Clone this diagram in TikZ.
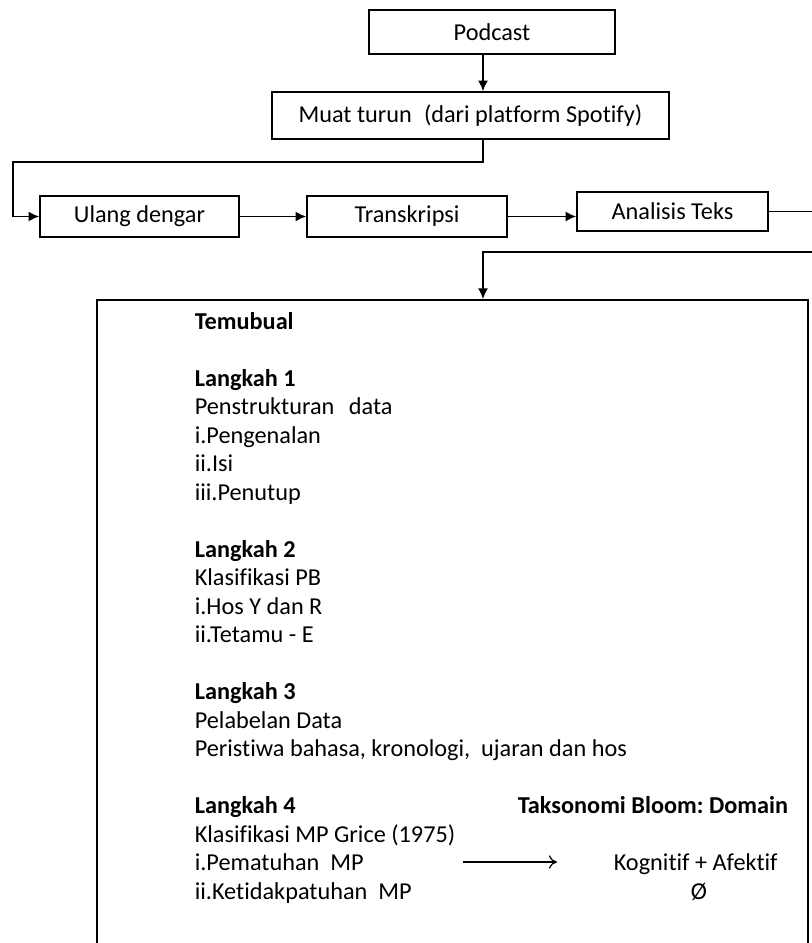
\documentclass[tikz,border=0pt]{standalone}
\usepackage{fontspec}
\setmainfont{Carlito}[Ligatures=NoCommon]
\usepackage{tikz}
\usetikzlibrary{arrows.meta}
\usetikzlibrary{calc}
\usetikzlibrary{positioning}

\newcommand{\ukuran}{\fontsize{18.2pt}{21pt}\selectfont}
\frenchspacing

\begin{document}
\begin{tikzpicture}[x=0.75pt, y=-0.75pt, font=\ukuran, -, >={Latex[length=8pt,width=7.5pt]}, line width=1.2pt]
	\tikzstyle{proses}=[draw, rectangle, inner sep=0pt]
	\tikzstyle{baris}=[anchor=base west, inner sep=0pt]
	\tikzstyle{tajuk}=[baris, font=\ukuran\bfseries]
	\useasboundingbox (0,0) rectangle (812,943);
	\clip (0,0) rectangle (812,943);

	% aliran atas
	\node[proses, minimum width=184.5pt, minimum height=33pt] (podcast) at (492,32) {Podcast};
	\node[proses, minimum width=297.75pt, minimum height=35.25pt] (muat) at (470.5,115.5) {Muat turun\hspace{0.5em}(dari platform Spotify)};
	\node[proses, minimum width=149.25pt, minimum height=30.75pt] (ulang) at (139.5,216.5) {Ulang dengar};
	\node[proses, minimum width=150pt, minimum height=30.75pt] (trans) at (407,216.5) {Transkripsi};
	\node[proses, minimum width=143.25pt, minimum height=29.25pt] (anal) at (672.5,211.5) {Analisis Teks};
	\node[proses, anchor=north west, minimum width=533.25pt, minimum height=600pt] (utama) at (96,299) {};

	\coordinate (c1) at (483,0);
	\coordinate (j1) at (13,162);
	\coordinate (j2) at (840,252);

	\draw[->] (podcast.south -| c1) -- (muat.north -| c1);
	\draw[->] (muat.south -| c1) |- (j1) |- (ulang.west);
	\draw[->] (ulang.east) -- (trans.west);
	\draw[->] (trans.east) -- (trans.east -| anal.west);
	\draw[->] (anal.east) -| (j2) -- (j2 -| c1) -- (utama.north -| c1);

	% isi kotak
	\node[tajuk] (temu) at (194,329) {Temubual};

	\node[tajuk] (lk1) at (194,386) {Langkah 1};
	\node[baris] (d1a) at (194,414.5) {Penstrukturan\hspace{0.6em}data};
	\node[baris] (d1b) at (194,443) {i.Pengenalan};
	\node[baris] (d1c) at (194,471.5) {ii.Isi};
	\node[baris] (d1d) at (194,500) {iii.Penutup};

	\node[tajuk] (lk2) at (194,557) {Langkah 2};
	\node[baris] (d2a) at (194,585.5) {Klasifikasi PB};
	\node[baris] (d2b) at (194,614) {i.Hos Y dan R};
	\node[baris] (d2c) at (194,642.5) {ii.Tetamu - E};

	\node[tajuk] (lk3) at (194,699.5) {Langkah 3};
	\node[baris] (d3a) at (194,728) {Pelabelan Data};
	\node[baris] (d3b) at (194,756.5) {Peristiwa bahasa, kronologi,\hspace{0.45em}ujaran dan hos};

	\node[tajuk] (lk4) at (194,813.5) {Langkah 4};
	\node[baris] (d4a) at (194,842) {Klasifikasi MP Grice (1975)};
	\node[baris] (pem) at (194,870.5) {i.Pematuhan\hspace{0.45em}MP};
	\node[baris] (tdk) at (194,899) {ii.Ketidakpatuhan\hspace{0.45em}MP};

	\node[tajuk] (bloom) at (517,813.5) {Taksonomi Bloom: Domain};
	\node[baris] (kog) at (613,870.5) {Kognitif + Afektif};
	\node[inner sep=0pt, anchor=base] (kosong) at (699,899) {Ø};

	\coordinate (p1) at (463,862);
	\coordinate (p2) at (557,862);
	\draw[-{To[length=6pt,width=10pt]}, line width=0.9pt] (p1) -- (p2);
\end{tikzpicture}
\end{document}
